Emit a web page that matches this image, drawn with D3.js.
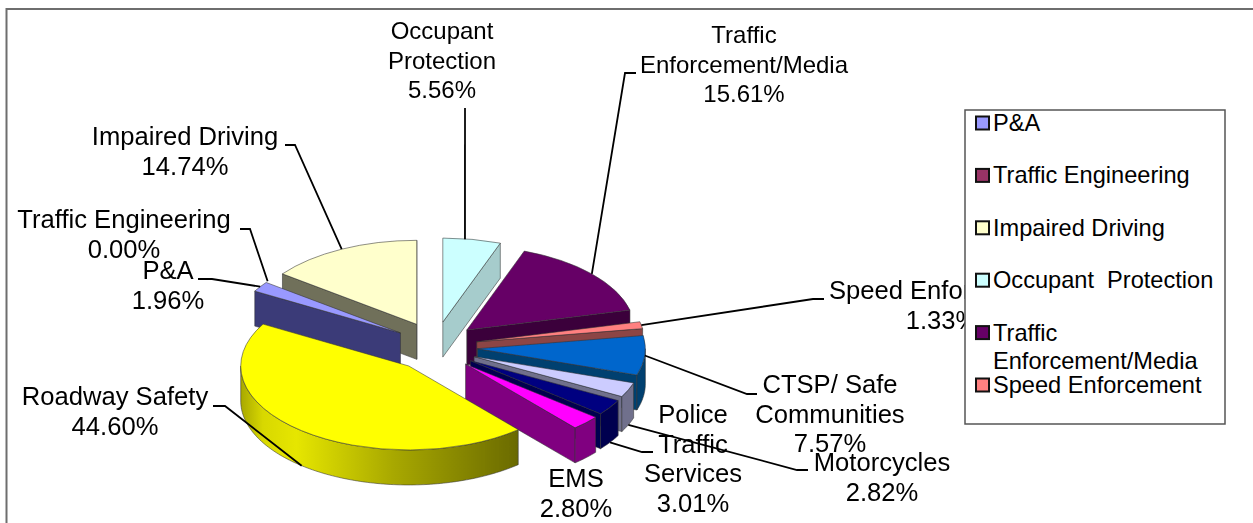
<!DOCTYPE html>
<html>
<head>
<meta charset="utf-8">
<script src="https://cdn.jsdelivr.net/npm/d3@7"></script>
<style>
  html, body { margin: 0; padding: 0; background: #fff; overflow: hidden; }
  text { font-family: "Liberation Sans", Arial, sans-serif; fill: #000; white-space: pre; }
</style>
</head>
<body>
<div id="chart-area"></div>
<script>
const SVG_WIDTH = 1253
const SVG_HEIGHT = 523

// pie data, clockwise
const categories = ["P&A", "Traffic Engineering", "Impaired Driving", "Occupant Protection",
  "Traffic Enforcement/Media", "Speed Enforcement", "CTSP/ Safe Communities", "Motorcycles",
  "Police Traffic Services", "EMS", "Roadway Safety"]
const shares = [1.96, 0, 14.74, 5.56, 15.61, 1.33, 7.57, 2.82, 3.01, 2.80, 44.60]
const topColors = ["#9999ff", "#993366", "#ffffcc", "#ccffff", "#660066", "#ff8080",
  "#0066cc", "#ccccff", "#000080", "#ff00ff", "#ffff00"]
const sideColors = ["#3b3b78", "#4d1a33", "#70705a", "#a6cccc", "#3a003a", "#8c4444",
  "#00406f", "#70708c", "#000050", "#800080", "#8f8f00"]

const legendLines = [["P&A"], ["Traffic Engineering"], ["Impaired Driving"], ["Occupant  Protection"],
  ["Traffic", "Enforcement/Media"], ["Speed Enforcement"]]
const legendColors = topColors.slice(0, 6)

// label text lines, centre x, first baseline, font size, and the end of the leader line (elbow, tip)
const labelLines = [["P&A"], ["Traffic Engineering"], ["Impaired Driving"], ["Occupant", "Protection"],
  ["Traffic", "Enforcement/Media"], ["Speed Enforcement"], ["CTSP/ Safe", "Communities"], ["Motorcycles"],
  ["Police", "Traffic", "Services"], ["EMS"], ["Roadway Safety"]]
const labelX = [168, 124, 185, 442, 744, 942, 830, 882, 693, 576, 115]
const labelY = [279, 228, 145, 39, 43, 299, 393, 471, 423, 487, 405]
const labelSize = [25.6, 25.6, 25.6, 24, 24, 25.6, 25.6, 25.6, 25.6, 25.6, 25.6]
const leaderElbows = [[212, 279], [250, 229], [295, 145], null, [625, 73], [813, 299], [747, 394], [797, 470], [642, 452], null, [225, 406]]
const leaderTips = [[198, 279], [240, 229], [285, 145], [465, 108], [636, 73], [824, 299], [757, 394], [808, 470], [653, 452], null, [213, 406]]
// the occupant leader drops straight down, so it leaves the rim a little left of mid-slice
const leaderShift = [0, 0, 0, -7, 0, 0, 0, 0, 0, 0, 0]

const CENTER = { x: 435.5, y: 346.7 }
const RADIUS = 168
const TILT = 0.5
const EXPLODE = { x: 42, y: 25 }
const DEPTH = 35

const svg = d3.select("#chart-area").append("svg")
  .attr("width", SVG_WIDTH)
  .attr("height", SVG_HEIGHT)
  .style("display", "block")

const defs = svg.append("defs")
defs.append("filter").attr("id", "soft")
  .append("feGaussianBlur").attr("stdDeviation", 0.6)
defs.append("filter").attr("id", "soft-text")
  .attr("filterUnits", "userSpaceOnUse")
  .attr("x", 0).attr("y", 0).attr("width", SVG_WIDTH).attr("height", SVG_HEIGHT)
  .append("feGaussianBlur").attr("stdDeviation", 0.35)

const roadwayGrad = defs.append("linearGradient").attr("id", "roadway-side")
roadwayGrad.selectAll("stop")
  .data([[0, "#a8a800"], [0.08, "#d8d800"], [0.2, "#e6e600"], [0.55, "#a8a800"], [1, "#6a6a00"]])
  .join("stop")
  .attr("offset", d => d[0])
  .attr("stop-color", d => d[1])

// chart frame, it runs off the picture on the right and at the bottom
svg.append("path")
  .attr("d", `M6.5,${SVG_HEIGHT}V9H${SVG_WIDTH}`)
  .attr("fill", "none")
  .attr("stroke", "#6e6e6e")
  .attr("stroke-width", 2)

const startAngle = -2 * Math.PI * d3.sum(shares.slice(0, 3)) / d3.sum(shares)
const pie = d3.pie().sort(null).startAngle(startAngle).endAngle(startAngle + 2 * Math.PI)
const arcGen = d3.arc().innerRadius(0).outerRadius(RADIUS)

const slices = pie(shares).map((d, i) => {
  const mid = (d.startAngle + d.endAngle) / 2
  return {
    ...d,
    i,
    mid,
    apex: [CENTER.x + EXPLODE.x * Math.sin(mid), CENTER.y - EXPLODE.y * Math.cos(mid)]
  }
})

// point on a slice's rim, angle measured clockwise from 12 o'clock
function rim(s, angle) {
  return [s.apex[0] + RADIUS * Math.sin(angle), s.apex[1] - RADIUS * TILT * Math.cos(angle)]
}

// wall along one cut edge of the slice
function cutWall(s, angle) {
  const p = rim(s, angle)
  return `M${s.apex}L${p}L${p[0]},${p[1] + DEPTH}L${s.apex[0]},${s.apex[1] + DEPTH}Z`
}

// wall along the part of the rim that faces the viewer
function rimWall(s) {
  const turns = Math.floor((s.startAngle + Math.PI / 2) / (2 * Math.PI))
  const a0 = Math.max(s.startAngle, Math.PI / 2 + turns * 2 * Math.PI)
  const a1 = Math.min(s.endAngle, 3 * Math.PI / 2 + turns * 2 * Math.PI)
  if (a1 <= a0) return null
  const angles = d3.range(a0, a1, 0.02).concat(a1)
  const front = angles.map(a => rim(s, a))
  const back = front.map(p => [p[0], p[1] + DEPTH]).reverse()
  return d3.line()(front.concat(back)) + "Z"
}

// paint the far slices first
const order = slices.filter(s => s.value > 0).sort((a, b) => Math.cos(b.mid) - Math.cos(a.mid))

const pieG = svg.append("g").attr("filter", "url(#soft)")

order.forEach(s => {
  const g = pieG.append("g")
    .attr("stroke", "#333")
    .attr("stroke-opacity", 0.55)
    .attr("stroke-width", 1)
    .attr("stroke-linejoin", "round")

  // the cut edge that turns towards the viewer: right half shows the end edge, left half the start edge
  if (Math.sin(s.endAngle) > 0) {
    g.append("path").attr("d", cutWall(s, s.endAngle)).attr("fill", sideColors[s.i])
  }
  if (Math.sin(s.startAngle) < 0) {
    g.append("path").attr("d", cutWall(s, s.startAngle)).attr("fill", sideColors[s.i])
  }
  const wall = rimWall(s)
  if (wall) {
    g.append("path").attr("d", wall)
      .attr("fill", s.i === 10 ? "url(#roadway-side)" : sideColors[s.i])
  }
  g.append("path")
    .attr("d", arcGen(s))
    .attr("transform", `translate(${s.apex}) scale(1,${TILT})`)
    .attr("vector-effect", "non-scaling-stroke")
    .attr("fill", topColors[s.i])
})

// leader lines
const leaderG = svg.append("g")
  .attr("fill", "none")
  .attr("stroke", "#000")
  .attr("stroke-width", 1.8)

slices.forEach(s => {
  if (!leaderTips[s.i]) return
  const start = rim(s, s.mid)
  start[0] += leaderShift[s.i]
  if (Math.cos(s.mid) < -0.2) start[1] += DEPTH
  const pts = [start, leaderElbows[s.i], leaderTips[s.i]].filter(Boolean)
  leaderG.append("path").attr("d", d3.line()(pts))
})

// data labels
const LABEL_STEP = 29.6
const labelG = svg.append("g")
  .attr("text-anchor", "middle")
  .attr("filter", "url(#soft-text)")

slices.forEach(s => {
  const lines = labelLines[s.i].concat(d3.format(".2f")(s.value) + "%")
  labelG.append("g")
    .attr("font-size", labelSize[s.i])
    .selectAll("text")
    .data(lines)
    .join("text")
    .attr("x", labelX[s.i])
    .attr("y", (d, j) => labelY[s.i] + j * LABEL_STEP)
    .text(d => d)
})

// legend sits on top of whatever label runs under it
const legend = svg.append("g")

legend.append("rect")
  .attr("x", 965)
  .attr("y", 110)
  .attr("width", 260)
  .attr("height", 314)
  .attr("fill", "#fff")
  .attr("stroke", "#555")
  .attr("stroke-width", 1.5)

const legendY = d3.scalePoint()
  .domain(d3.range(legendLines.length))
  .range([123, 385])

legend.selectAll("rect.swatch")
  .data(legendColors)
  .join("rect")
  .attr("class", "swatch")
  .attr("x", 976)
  .attr("y", (d, i) => legendY(i) - 6.5)
  .attr("width", 13)
  .attr("height", 13)
  .attr("fill", d => d)
  .attr("stroke", "#111")
  .attr("stroke-width", 2)

legend.selectAll("g.entry")
  .data(legendLines)
  .join("g")
  .attr("class", "entry")
  .attr("font-size", 23.6)
  .selectAll("text")
  .data((d, i) => d.map((t, j) => ({ t, y: legendY(i) + 8 + j * 28 })))
  .join("text")
  .attr("x", 993)
  .attr("y", d => d.y)
  .text(d => d.t)
</script>
</body>
</html>
